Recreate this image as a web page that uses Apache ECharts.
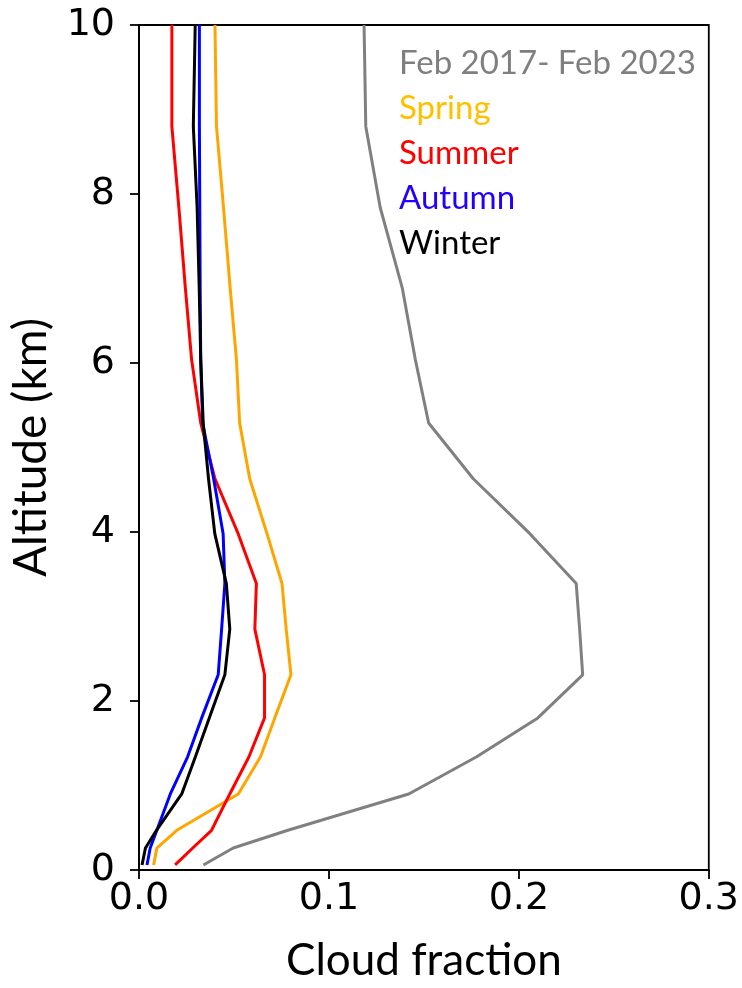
<!DOCTYPE html>
<html>
<head>
<meta charset="utf-8">
<title>Cloud fraction profile</title>
<script src="https://cdn.jsdelivr.net/npm/echarts@6/dist/echarts.min.js"></script>
<style>
  html, body { margin: 0; padding: 0; background: #fff; }
  #chart { width: 742px; height: 988px; }
</style>
</head>
<body>
<div id="chart"></div>
<script>
// Altitude levels of the profile (km)
const altitudes = [0.06, 0.26, 0.47, 0.90, 1.34, 1.80, 2.31, 2.85, 3.39, 3.98, 4.63, 5.29, 6.04, 6.89, 7.84, 8.80, 10.0];

// Mean cloud fraction at each level
const cfAll    = [0.0339, 0.0496, 0.0784, 0.1420, 0.1778, 0.2100, 0.2336, 0.2320, 0.2302, 0.2058, 0.1760, 0.1525, 0.1455, 0.1386, 0.1270, 0.1194, 0.1185];
const cfSpring = [0.0077, 0.0094, 0.0199, 0.0523, 0.0640, 0.0715, 0.0800, 0.0775, 0.0753, 0.0674, 0.0583, 0.0530, 0.0513, 0.0480, 0.0445, 0.0408, 0.0400];
const cfSummer = [0.0190, 0.0283, 0.0382, 0.0478, 0.0579, 0.0661, 0.0661, 0.0610, 0.0618, 0.0522, 0.0400, 0.0325, 0.0277, 0.0244, 0.0210, 0.0173, 0.0173];
const cfAutumn = [0.0042, 0.0059, 0.0094, 0.0165, 0.0256, 0.0330, 0.0417, 0.0435, 0.0452, 0.0443, 0.0393, 0.0335, 0.0325, 0.0322, 0.0320, 0.0318, 0.0318];
const cfWinter = [0.0016, 0.0034, 0.0092, 0.0225, 0.0297, 0.0370, 0.0452, 0.0478, 0.0460, 0.0399, 0.0366, 0.0338, 0.0325, 0.0317, 0.0306, 0.0286, 0.0296];

const seriesNames  = ['Feb 2017- Feb 2023', 'Spring', 'Summer', 'Autumn', 'Winter'];
const seriesValues = [cfAll, cfSpring, cfSummer, cfAutumn, cfWinter];
const lineColors   = ['#808080', '#FFA500', '#FF0000', '#0000FF', '#000000'];
const legendColors = ['#7F7F7F', '#FFC000', '#FF0000', '#2200FF', '#000000'];

const xTicks = [0.0, 0.1, 0.2, 0.3];
const yTicks = [0, 2, 4, 6, 8, 10];

const tickFont = 'DejaVu Sans';
const textFont = 'Lato';

const chart = echarts.init(document.getElementById('chart'), null, { renderer: 'canvas' });

const series = seriesNames.map((name, i) => ({
  name: name,
  type: 'line',
  data: seriesValues[i].map((v, k) => [v, altitudes[k]]),
  showSymbol: false,
  symbol: 'none',
  lineStyle: { color: lineColors[i], width: 3 },
  itemStyle: { color: lineColors[i] },
  animation: false,
  z: 2 + i
}));

chart.setOption({
  backgroundColor: '#ffffff',
  animation: false,
  grid: {
    left: 137, right: 33, top: 25, bottom: 113,
    show: true, borderColor: '#000', borderWidth: 1.8, backgroundColor: 'transparent'
  },
  legend: {
    orient: 'vertical',
    left: 389,
    top: 40,
    itemWidth: 0,
    itemHeight: 0,
    itemGap: 9,
    icon: 'none',
    selectedMode: false,
    textStyle: { fontFamily: textFont, fontSize: 33, lineHeight: 36 },
    data: seriesNames.map((n, i) => ({ name: n, icon: 'none', textStyle: { color: legendColors[i] } }))
  },
  xAxis: {
    type: 'value',
    min: xTicks[0], max: xTicks[xTicks.length - 1], interval: 0.1,
    name: 'Cloud fraction',
    nameLocation: 'middle',
    nameGap: 69,
    nameTextStyle: { fontFamily: textFont, fontSize: 44, color: '#000' },
    axisLine: { show: true, onZero: false, lineStyle: { color: '#000', width: 1.8 } },
    axisTick: { show: true, inside: false, length: 9, lineStyle: { color: '#000', width: 1.8 } },
    axisLabel: {
      fontFamily: tickFont, fontSize: 38, color: '#000', margin: 10,
      formatter: v => v.toFixed(1)
    },
    splitLine: { show: false }
  },
  yAxis: {
    type: 'value',
    min: yTicks[0], max: yTicks[yTicks.length - 1], interval: 2,
    name: 'Altitude (km)',
    nameLocation: 'middle',
    nameGap: 85,
    nameTextStyle: { fontFamily: textFont, fontSize: 46, color: '#000' },
    axisLine: { show: true, onZero: false, lineStyle: { color: '#000', width: 1.8 } },
    axisTick: { show: true, inside: false, length: 9, lineStyle: { color: '#000', width: 1.8 } },
    axisLabel: { fontFamily: tickFont, fontSize: 38, color: '#000', margin: 24 },
    splitLine: { show: false }
  },
  series: series
});
</script>
</body>
</html>
